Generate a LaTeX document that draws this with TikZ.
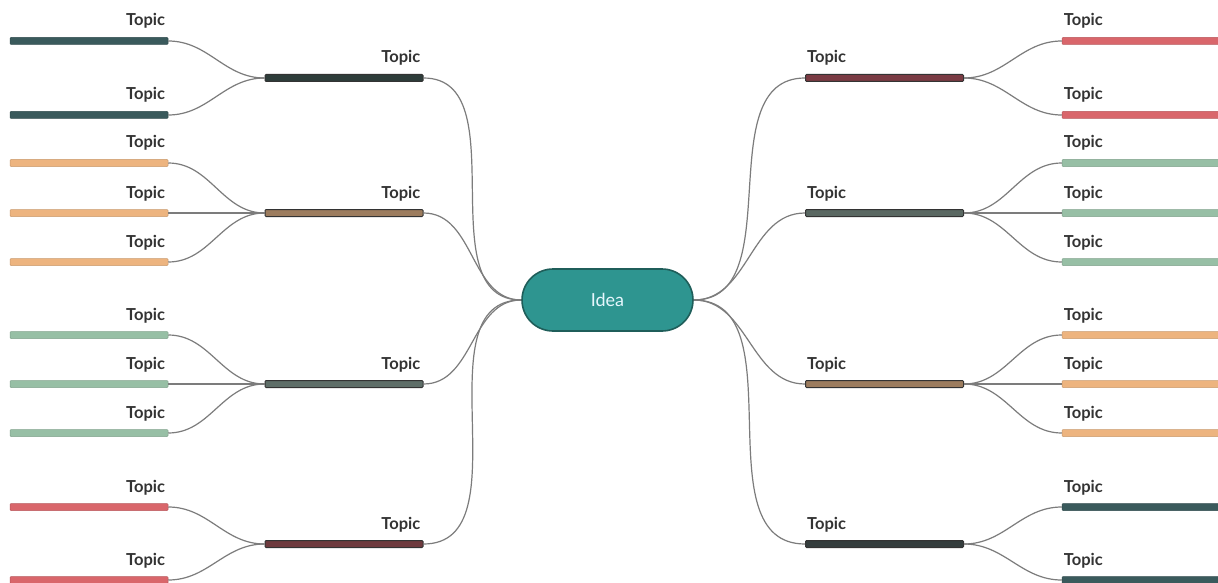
\documentclass[tikz,border=0pt]{standalone}
\usepackage{fontspec}
\setmainfont{Lato}
\usetikzlibrary{shapes.misc}
\definecolor{cdk}{HTML}{3A5A5C}
\definecolor{cor}{HTML}{EDB47F}
\definecolor{cgr}{HTML}{97BFA5}
\definecolor{crd}{HTML}{D9666B}
\definecolor{mLa}{HTML}{2E3D3A}
\definecolor{mLb}{HTML}{9C7C5E}
\definecolor{mLc}{HTML}{5E6E68}
\definecolor{mLd}{HTML}{6E3A3E}
\definecolor{mRa}{HTML}{7A3B43}
\definecolor{mRb}{HTML}{5A6862}
\definecolor{mRc}{HTML}{9C7C5E}
\definecolor{mRd}{HTML}{343D3D}
\definecolor{ideafill}{HTML}{2E9590}
\definecolor{ideadraw}{HTML}{1F5E5A}
\definecolor{link}{HTML}{7C7C7C}
\definecolor{txt}{HTML}{333333}
\tikzset{
  subbar/.style={fill=#1, draw=#1!85!black, line width=0.5pt, minimum width=158pt, minimum height=7pt, inner sep=0pt, rounded corners=1pt},
  mainbar/.style={fill=#1, draw=black!80, line width=1pt, minimum width=158pt, minimum height=7pt, inner sep=0pt, rounded corners=1pt},
  topictext/.style={text=txt, font=\fontsize{16.5}{19}\selectfont\bfseries, inner sep=0pt},
  link/.style={draw=link, line width=1.2pt},
}
\begin{document}
\begin{tikzpicture}[x=1pt,y=-1pt]
\useasboundingbox[fill=white] (0,0) rectangle (1218,583);
% central idea
\node[rounded rectangle, fill=ideafill, draw=ideadraw, line width=1.6pt, minimum width=171pt, minimum height=62pt, inner sep=0pt, text=white!90!cyan, font=\fontsize{18}{20}\selectfont] (idea) at (607.5,300) {Idea};
% left main bars
\node[mainbar=mLa] (L1) at (344,78) {};
\node[mainbar=mLb] (L2) at (344,213) {};
\node[mainbar=mLc] (L3) at (344,384) {};
\node[mainbar=mLd] (L4) at (344,544) {};
% right main bars
\node[mainbar=mRa] (R1) at (884.5,78) {};
\node[mainbar=mRb] (R2) at (884.5,213) {};
\node[mainbar=mRc] (R3) at (884.5,384) {};
\node[mainbar=mRd] (R4) at (884.5,544) {};
% left sub bars
\node[subbar=cdk] (L1a) at (89,41) {};
\node[subbar=cdk] (L1b) at (89,115) {};
\node[subbar=cor] (L2a) at (89,163) {};
\node[subbar=cor] (L2b) at (89,213) {};
\node[subbar=cor] (L2c) at (89,262) {};
\node[subbar=cgr] (L3a) at (89,335) {};
\node[subbar=cgr] (L3b) at (89,384) {};
\node[subbar=cgr] (L3c) at (89,433) {};
\node[subbar=crd] (L4a) at (89,507) {};
\node[subbar=crd] (L4b) at (89,580) {};
% right sub bars
\node[subbar=crd] (R1a) at (1141,41) {};
\node[subbar=crd] (R1b) at (1141,115) {};
\node[subbar=cgr] (R2a) at (1141,163) {};
\node[subbar=cgr] (R2b) at (1141,213) {};
\node[subbar=cgr] (R2c) at (1141,262) {};
\node[subbar=cor] (R3a) at (1141,335) {};
\node[subbar=cor] (R3b) at (1141,384) {};
\node[subbar=cor] (R3c) at (1141,433) {};
\node[subbar=cdk] (R4a) at (1141,507) {};
\node[subbar=cdk] (R4b) at (1141,580) {};
% labels left
\foreach \n in {L1,L2,L3,L4,L1a,L1b,L2a,L2b,L2c,L3a,L3b,L3c,L4a,L4b}
  \node[topictext, anchor=base east] (t\n) at ([shift={(-3,-15)}]\n.east) {Topic};
% labels right
\foreach \n in {R1,R2,R3,R4,R1a,R1b,R2a,R2b,R2c,R3a,R3b,R3c,R4a,R4b}
  \node[topictext, anchor=base west] (t\n) at ([shift={(2,-15)}]\n.west) {Topic};
% main connectors
\foreach \n in {L1,L2,L3,L4}
  \draw[link] (\n.east) to[out=0,in=180] (idea.west);
\foreach \n in {R1,R2,R3,R4}
  \draw[link] (\n.west) to[out=180,in=0] (idea.east);
% sub connectors left
\foreach \m/\s in {L1/L1a,L1/L1b,L2/L2a,L2/L2b,L2/L2c,L3/L3a,L3/L3b,L3/L3c,L4/L4a,L4/L4b}
  \draw[link] (\m.west) to[out=180,in=0] (\s.east);
% sub connectors right
\foreach \m/\s in {R1/R1a,R1/R1b,R2/R2a,R2/R2b,R2/R2c,R3/R3a,R3/R3b,R3/R3c,R4/R4a,R4/R4b}
  \draw[link] (\m.east) to[out=0,in=180] (\s.west);
\end{tikzpicture}
\end{document}
